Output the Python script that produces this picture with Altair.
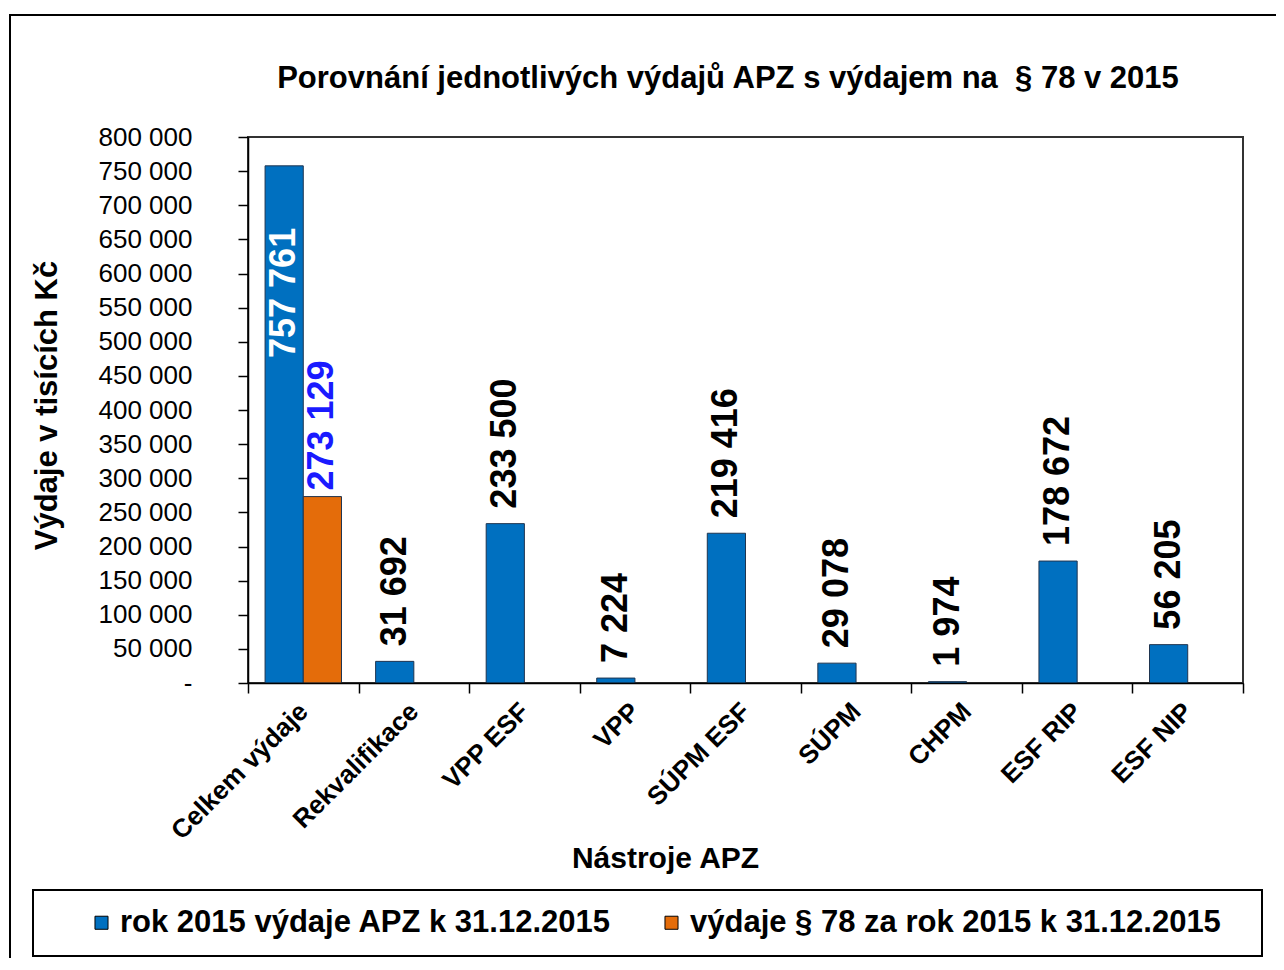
import altair as alt
import pandas as pd

# ---- data ----
categories = ["Celkem výdaje", "Rekvalifikace", "VPP ESF", "VPP", "SÚPM ESF",
              "SÚPM", "CHPM", "ESF RIP", "ESF NIP"]
apz_values = [757761, 31692, 233500, 7224, 219416, 29078, 1974, 178672, 56205]
par78_categories = ["Celkem výdaje"]
par78_values = [273129]
series_names = ["rok 2015 výdaje APZ k 31.12.2015",
                "výdaje § 78 za rok 2015 k 31.12.2015"]
y_ticks = list(range(0, 800001, 50000))
chart_title = "Porovnání jednotlivých výdajů APZ s výdajem na \u00a0§ 78 v 2015"

rows = []
for c, v in zip(categories, apz_values):
    rows.append({"cat": c, "series": series_names[0], "value": v})
for c, v in zip(par78_categories, par78_values):
    rows.append({"cat": c, "series": series_names[1], "value": v})
df = pd.DataFrame(rows)
df["label"] = df["value"].map(lambda v: f"{v:,}".replace(",", " "))

FONT = "Liberation Sans"
BLUE = "#0070C0"
ORANGE = "#E46C0A"

x_enc = alt.X(
    "cat:N", sort=categories,
    scale=alt.Scale(paddingInner=0, paddingOuter=0),
    title="Nástroje APZ",
    axis=alt.Axis(
        labelAngle=-45, labelAlign="right", labelBaseline="middle",
        labelFont=FONT, labelFontSize=26, labelFontWeight="bold", labelColor="black",
        labelPadding=14, tickBand="extent", tickSize=10, tickColor="black",
        domainColor="black", domainWidth=1.5, tickWidth=1.5,
        titleFont=FONT, titleFontSize=30, titleFontWeight="bold", titleColor="black",
        titleX=417, titleY=175, titleAlign="center", titleBaseline="middle",
        labelOverlap=False, labelLimit=400, zindex=2,
    ),
)
xo_enc = alt.XOffset("series:N",
                     scale=alt.Scale(domain=series_names, paddingInner=0, paddingOuter=0.4465))
y_enc = alt.Y(
    "value:Q", scale=alt.Scale(domain=[0, 800000], nice=False),
    title="Výdaje v tisících Kč",
    axis=alt.Axis(
        values=y_ticks, tickCount=17, grid=False, labelOverlap=False,
        labelExpr="datum.value == 0 ? '-' : replace(datum.label, ',', ' ')",
        labelFont=FONT, labelFontSize=26, labelColor="black", labelPadding=46,
        tickSize=10, tickColor="black", tickWidth=1.5,
        domainColor="black", domainWidth=1.5,
        titleFont=FONT, titleFontSize=31, titleFontWeight="bold", titleColor="black",
        titleX=-201, titleY=268, titleAngle=270, titleAlign="center",
        titleBaseline="middle", zindex=2,
    ),
)
color_enc = alt.Color(
    "series:N",
    scale=alt.Scale(domain=series_names, range=[BLUE, ORANGE]),
    legend=alt.Legend(
        title=None, orient="none", legendX=-162, legendY=770,
        direction="horizontal", labelFont=FONT, labelFontSize=31,
        labelFontWeight="bold", labelColor="black", symbolType="square",
        symbolSize=170, symbolStrokeColor="black", symbolStrokeWidth=1,
        columnPadding=44, labelOffset=3, padding=0, labelLimit=800,
    ),
)

base = alt.Chart(df)

bars = base.mark_bar(stroke="#1f3550", strokeWidth=1).encode(
    x=x_enc, xOffset=xo_enc, y=y_enc, color=color_enc
)

first = categories[0]
lab_common = dict(angle=270, baseline="middle", font=FONT, fontSize=36, fontWeight="bold")

t_blue = base.transform_filter(
    (alt.datum.series == series_names[0]) & (alt.datum.cat != first)
).mark_text(align="left", dx=15, color="black", **lab_common).encode(
    x=x_enc, xOffset=xo_enc, y=y_enc, text="label:N"
)
t_first = base.transform_filter(
    (alt.datum.series == series_names[0]) & (alt.datum.cat == first)
).mark_text(align="right", dx=-62, color="white", **lab_common).encode(
    x=x_enc, xOffset=xo_enc, y=y_enc, text="label:N"
)
t_orange = base.transform_filter(
    alt.datum.series == series_names[1]
).mark_text(align="left", dx=6, color="#1a1aff", **lab_common).encode(
    x=x_enc, xOffset=xo_enc, y=y_enc, text="label:N"
)

deco = pd.DataFrame({"d": [0]})
frame = alt.Chart(deco).mark_rect(fill="transparent", stroke="black", strokeWidth=2).encode(
    x=alt.value(-238), x2=alt.value(1200), y=alt.value(-122), y2=alt.value(1000)
)
legend_box = alt.Chart(deco).mark_rect(fill="white", stroke="black", strokeWidth=2).encode(
    x=alt.value(-215), x2=alt.value(1014), y=alt.value(753), y2=alt.value(819)
)
title_mark = alt.Chart(deco).mark_text(
    text=chart_title, font=FONT, fontSize=31, fontWeight="bold", color="black",
    align="center", baseline="alphabetic"
).encode(x=alt.value(480), y=alt.value(-49))

chart = alt.layer(bars, t_blue, t_first, t_orange, frame, legend_box, title_mark).properties(
    width=995, height=546,
    background="white",
    autosize=alt.AutoSizeParams(type="none"),
    padding={"left": 240, "top": 129, "right": 33, "bottom": 275},
).configure_view(stroke="#333333", strokeWidth=2)

chart.save("out.html", embed_options={"renderer": "svg", "actions": False})
